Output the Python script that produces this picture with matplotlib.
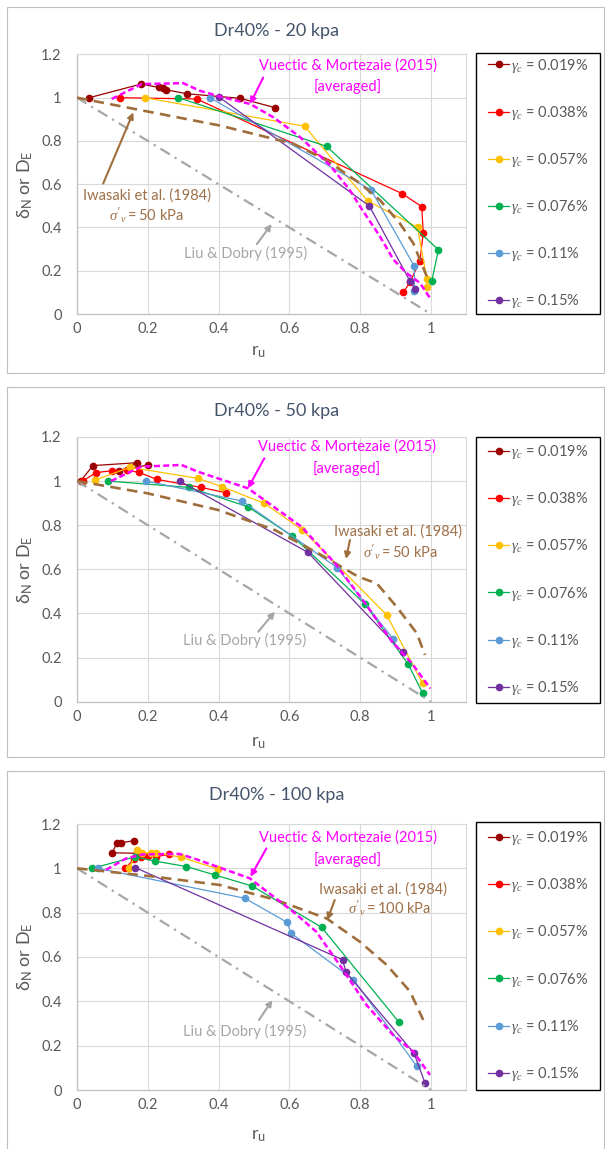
import matplotlib
matplotlib.use('Agg')
import matplotlib.pyplot as plt
from matplotlib.patches import Rectangle

plt.rcParams['font.family'] = ['Lato', 'DejaVu Sans']
plt.rcParams['mathtext.fontset'] = 'custom'
plt.rcParams['mathtext.rm'] = 'Lato'
plt.rcParams['mathtext.it'] = 'Liberation Serif:italic'
plt.rcParams['mathtext.bf'] = 'Lato:bold'

# ---------------- data ----------------
gamma_labels = ['0.019%', '0.038%', '0.057%', '0.076%', '0.11%', '0.15%']
series_colors = ['#9B0000', '#FF0000', '#FFC000', '#00B050', '#5B9BD5', '#7030A0']
panel_titles = ['Dr40% - 20 kpa', 'Dr40% - 50 kpa', 'Dr40% - 100 kpa']
x_ticks = [0, 0.2, 0.4, 0.6, 0.8, 1.0]
x_tick_labels = ['0', '0.2', '0.4', '0.6', '0.8', '1']
y_ticks = [0, 0.2, 0.4, 0.6, 0.8, 1.0, 1.2]
y_tick_labels = ['0', '0.2', '0.4', '0.6', '0.8', '1', '1.2']

# Panel 1: 20 kPa
p20_019_x = [0.035, 0.181, 0.232, 0.242, 0.25, 0.311, 0.461, 0.559]
p20_019_y = [1.0, 1.063, 1.047, 1.045, 1.037, 1.018, 0.997, 0.954]
p20_038_x = [0.121, 0.338, 0.918, 0.974, 0.978, 0.969, 0.941, 0.922]
p20_038_y = [1.0, 0.994, 0.557, 0.496, 0.373, 0.247, 0.148, 0.10]
p20_057_x = [0.192, 0.643, 0.821, 0.962, 0.988, 0.989]
p20_057_y = [1.0, 0.868, 0.523, 0.401, 0.163, 0.125]
p20_076_x = [0.286, 0.705, 1.021, 1.002]
p20_076_y = [1.0, 0.775, 0.297, 0.151]
p20_011_x = [0.375, 0.831, 0.953, 0.953]
p20_011_y = [1.0, 0.573, 0.22, 0.108]
p20_015_x = [0.401, 0.826, 0.941, 0.955]
p20_015_y = [1.003, 0.499, 0.151, 0.116]

# Panel 2: 50 kPa
p50_019_x = [0.01, 0.045, 0.17, 0.12, 0.2]
p50_019_y = [1.0, 1.07, 1.083, 1.045, 1.073]
p50_038_x = [0.016, 0.054, 0.099, 0.14, 0.175, 0.227, 0.351, 0.42]
p50_038_y = [1.0, 1.038, 1.047, 1.05, 1.039, 1.007, 0.971, 0.947]
p50_057_x = [0.052, 0.15, 0.342, 0.41, 0.529, 0.637, 0.875, 0.976]
p50_057_y = [1.005, 1.062, 1.012, 0.974, 0.899, 0.778, 0.393, 0.083]
p50_076_x = [0.087, 0.316, 0.482, 0.608, 0.814, 0.936, 0.976]
p50_076_y = [1.0, 0.971, 0.884, 0.751, 0.442, 0.169, 0.04]
p50_011_x = [0.195, 0.467, 0.735, 0.892]
p50_011_y = [1.0, 0.909, 0.607, 0.286]
p50_015_x = [0.29, 0.652, 0.921]
p50_015_y = [1.0, 0.677, 0.223]

# Panel 3: 100 kPa
p100_019_x = [0.176, 0.1, 0.112, 0.125, 0.16]
p100_019_y = [1.068, 1.07, 1.113, 1.115, 1.125]
p100_038_x = [0.136, 0.16, 0.181, 0.2, 0.224, 0.261]
p100_038_y = [1.0, 1.04, 1.053, 1.057, 1.053, 1.063]
p100_057_x = [0.148, 0.17, 0.185, 0.208, 0.224, 0.294, 0.398]
p100_057_y = [1.0, 1.083, 1.071, 1.068, 1.071, 1.05, 0.997]
p100_076_x = [0.043, 0.164, 0.219, 0.309, 0.39, 0.495, 0.691, 0.91]
p100_076_y = [1.0, 1.052, 1.033, 1.008, 0.97, 0.92, 0.734, 0.305]
p100_011_x = [0.058, 0.474, 0.594, 0.604, 0.781, 0.96]
p100_011_y = [1.0, 0.865, 0.756, 0.708, 0.498, 0.107]
p100_015_x = [0.165, 0.75, 0.76, 0.952, 0.983]
p100_015_y = [1.003, 0.588, 0.531, 0.166, 0.032]

# Vuectic & Mortezaie (2015) averaged curve
vm20_x = [0.098, 0.183, 0.3, 0.347, 0.404, 0.489, 0.555, 0.63, 0.715, 0.771, 0.8, 0.856, 0.894, 0.931, 0.969, 0.997]
vm20_y = [0.994, 1.063, 1.067, 1.032, 1.005, 0.971, 0.909, 0.818, 0.687, 0.572, 0.496, 0.358, 0.251, 0.189, 0.143, 0.074]
vm50_x = [0.096, 0.181, 0.295, 0.342, 0.483, 0.634, 0.729, 0.814, 0.89, 0.946, 0.998]
vm50_y = [1.0, 1.065, 1.073, 1.042, 0.967, 0.793, 0.627, 0.446, 0.272, 0.174, 0.06]
vm100_x = [0.082, 0.139, 0.186, 0.29, 0.337, 0.488, 0.61, 0.676, 0.742, 0.818, 0.893, 0.95, 0.997]
vm100_y = [0.993, 1.045, 1.063, 1.065, 1.041, 0.955, 0.805, 0.714, 0.564, 0.383, 0.248, 0.173, 0.068]

# Iwasaki et al. (1984)
iw20_x = [0.0, 0.187, 0.404, 0.611, 0.705, 0.8, 0.856, 0.912, 0.95, 0.988]
iw20_y = [1.0, 0.94, 0.871, 0.787, 0.71, 0.603, 0.526, 0.419, 0.327, 0.174]
iw50_x = [0.0, 0.2, 0.398, 0.559, 0.682, 0.795, 0.847, 0.903, 0.96, 0.983]
iw50_y = [1.0, 0.944, 0.869, 0.778, 0.672, 0.566, 0.536, 0.43, 0.31, 0.212]
iw100_x = [0.0, 0.205, 0.403, 0.563, 0.705, 0.799, 0.875, 0.941, 0.978]
iw100_y = [1.0, 0.965, 0.925, 0.857, 0.774, 0.669, 0.564, 0.444, 0.316]

# Liu & Dobry (1995)
ld_x = [0.0, 1.0]
ld_y = [1.0, 0.0]

iw_sigma_labels = [r"$\sigma'_{v} = 50$ kPa", r"$\sigma'_{v} = 50$ kPa", r"$\sigma'_{v} = 100$ kPa"]

panels = [
    dict(series=[(p20_019_x, p20_019_y), (p20_038_x, p20_038_y), (p20_057_x, p20_057_y),
                 (p20_076_x, p20_076_y), (p20_011_x, p20_011_y), (p20_015_x, p20_015_y)],
         vm=(vm20_x, vm20_y), iw=(iw20_x, iw20_y)),
    dict(series=[(p50_019_x, p50_019_y), (p50_038_x, p50_038_y), (p50_057_x, p50_057_y),
                 (p50_076_x, p50_076_y), (p50_011_x, p50_011_y), (p50_015_x, p50_015_y)],
         vm=(vm50_x, vm50_y), iw=(iw50_x, iw50_y)),
    dict(series=[(p100_019_x, p100_019_y), (p100_038_x, p100_038_y), (p100_057_x, p100_057_y),
                 (p100_076_x, p100_076_y), (p100_011_x, p100_011_y), (p100_015_x, p100_015_y)],
         vm=(vm100_x, vm100_y), iw=(iw100_x, iw100_y)),
]

# ---------------- layout (pixels) ----------------
W, H = 605, 1149
fig = plt.figure(figsize=(W / 100, H / 100), dpi=100)

def fx(px):
    return px / W

def fy(py):
    return 1 - py / H

layout = [
    dict(box=(7.5, 373), title=31, ax=(54.4, 314), xlab=352, leg=(53, 314)),
    dict(box=(387.5, 757), title=411, ax=(436.9, 701.7), xlab=743, leg=(437, 703)),
    dict(box=(771, 1160), title=795, ax=(824, 1090), xlab=1136, leg=(822, 1090)),
]

# annotation positions (data coords)
ann = [
    dict(vm_t=(0.766, 1.147), vm_t2=(0.766, 1.05), vm_a=((0.526, 1.093), (0.489, 0.971)),
         iw_t=(0.197, 0.549), iw_s=(0.197, 0.46), iw_a=((0.074, 0.603), (0.159, 0.932)),
         ld_t=(0.475, 0.278), ld_a=((0.508, 0.323), (0.55, 0.416))),
    dict(vm_t=(0.762, 1.156), vm_t2=(0.762, 1.057), vm_a=((0.529, 1.103), (0.483, 0.967)),
         iw_t=(0.907, 0.77), iw_s=(0.912, 0.68), iw_a=((0.771, 0.733), (0.76, 0.647)),
         ld_t=(0.474, 0.276), ld_a=((0.512, 0.317), (0.559, 0.408))),
    dict(vm_t=(0.766, 1.138), vm_t2=(0.766, 1.04), vm_a=((0.535, 1.09), (0.49, 0.962)),
         iw_t=(0.865, 0.905), iw_s=(0.884, 0.82), iw_a=((0.728, 0.857), (0.707, 0.767)),
         ld_t=(0.474, 0.266), ld_a=((0.514, 0.316), (0.552, 0.406))),
]

TXT = '#595959'
MAG = '#FF00FF'
BRN = '#A06E3C'
GRY = '#A6A6A6'

x_left, x_right = 77, 77 + 1.1 * 354

for i, (pan, lay, an) in enumerate(zip(panels, layout, ann)):
    # outer chart border
    b0, b1 = lay['box']
    fig.add_artist(Rectangle((fx(7), fy(b1)), fx(604) - fx(7), fy(b0) - fy(b1),
                             transform=fig.transFigure, fill=False, ec='#BFBFBF', lw=0.8))
    a0, a1 = lay['ax']
    ax = fig.add_axes([fx(x_left), fy(a1), fx(x_right) - fx(x_left), fy(a0) - fy(a1)])
    ax.set_xlim(0, 1.1)
    ax.set_ylim(0, 1.2)
    ax.set_xticks(x_ticks)
    ax.set_xticklabels(x_tick_labels)
    ax.set_yticks(y_ticks)
    ax.set_yticklabels(y_tick_labels)
    ax.tick_params(length=0, labelsize=10.5, labelcolor=TXT)
    ax.tick_params(axis='y', pad=11)
    ax.tick_params(axis='x', pad=6)
    ax.grid(True, color='#D9D9D9', lw=0.8)
    ax.set_axisbelow(True)
    for s in ['top', 'right']:
        ax.spines[s].set_color('#D9D9D9')
        ax.spines[s].set_linewidth(0.8)
    for s in ['left', 'bottom']:
        ax.spines[s].set_color('#BFBFBF')
        ax.spines[s].set_linewidth(0.9)

    handles = []
    for (sx, sy), c, lab in zip(pan['series'], series_colors, gamma_labels):
        h, = ax.plot(sx, sy, color=c, lw=0.9, marker='o', ms=4.5, mec=c, mfc=c,
                     label=r'$\gamma_c$ = ' + lab, zorder=3)
        handles.append(h)

    ax.plot(ld_x, ld_y, color=GRY, lw=1.6, ls=(0, (5, 2.5, 1, 2.5)), zorder=4)
    ax.plot(*pan['iw'], color=BRN, lw=1.9, ls=(0, (4, 2.4)), zorder=4)
    ax.plot(*pan['vm'], color=MAG, lw=1.8, ls=(0, (2.4, 1.3)), zorder=5)

    # annotations
    ax.text(*an['vm_t'], 'Vuectic & Mortezaie (2015)', color=MAG, fontsize=10.5,
            ha='center', va='center', zorder=6)
    ax.text(*an['vm_t2'], '[averaged]', color=MAG, fontsize=10.5, ha='center', va='center', zorder=6)
    ax.annotate('', xy=an['vm_a'][1], xytext=an['vm_a'][0],
                arrowprops=dict(arrowstyle='-|>', color=MAG, lw=1.5, mutation_scale=9,
                                shrinkA=0, shrinkB=0), zorder=6)
    ax.text(*an['iw_t'], 'Iwasaki et al. (1984)', color='#9E7048', fontsize=10.5,
            ha='center', va='center', zorder=6)
    ax.text(*an['iw_s'], iw_sigma_labels[i], color='#9E7048', fontsize=10.5,
            ha='center', va='center', zorder=6)
    ax.annotate('', xy=an['iw_a'][1], xytext=an['iw_a'][0],
                arrowprops=dict(arrowstyle='-|>', color=BRN, lw=1.5, mutation_scale=9,
                                shrinkA=0, shrinkB=0), zorder=6)
    ax.text(*an['ld_t'], 'Liu & Dobry (1995)', color=GRY, fontsize=10.5,
            ha='center', va='center', zorder=6)
    ax.annotate('', xy=an['ld_a'][1], xytext=an['ld_a'][0],
                arrowprops=dict(arrowstyle='-|>', color=GRY, lw=1.5, mutation_scale=9,
                                shrinkA=0, shrinkB=0), zorder=6)

    # titles and axis labels
    fig.text(fx(277), fy(lay['title']), panel_titles[i], fontsize=13, color='#44546A',
             ha='center', va='center')
    fig.text(fx(258), fy(lay['xlab']), r'r$_{\mathrm{u}}$', fontsize=13, color=TXT,
             ha='center', va='center')
    fig.text(fx(25), fy((a0 + a1) / 2), r'δ$_{\mathrm{N}}$ or D$_{\mathrm{E}}$', fontsize=13,
             color=TXT, ha='center', va='center', rotation=90)

    # legend
    l0, l1 = lay['leg']
    fig.add_artist(Rectangle((fx(476), fy(l1)), fx(600) - fx(476), fy(l0) - fy(l1),
                             transform=fig.transFigure, fill=False, ec='black', lw=1.0))
    ax.legend(handles=handles, loc='center left',
              bbox_to_anchor=(fx(488), fy((l0 + l1) / 2)), bbox_transform=fig.transFigure,
              frameon=False, borderpad=0, borderaxespad=0, handlelength=1.45,
              handletextpad=0.15, labelspacing=2.0, fontsize=10.5, labelcolor=TXT)

fig.savefig('out.png', dpi=100)
